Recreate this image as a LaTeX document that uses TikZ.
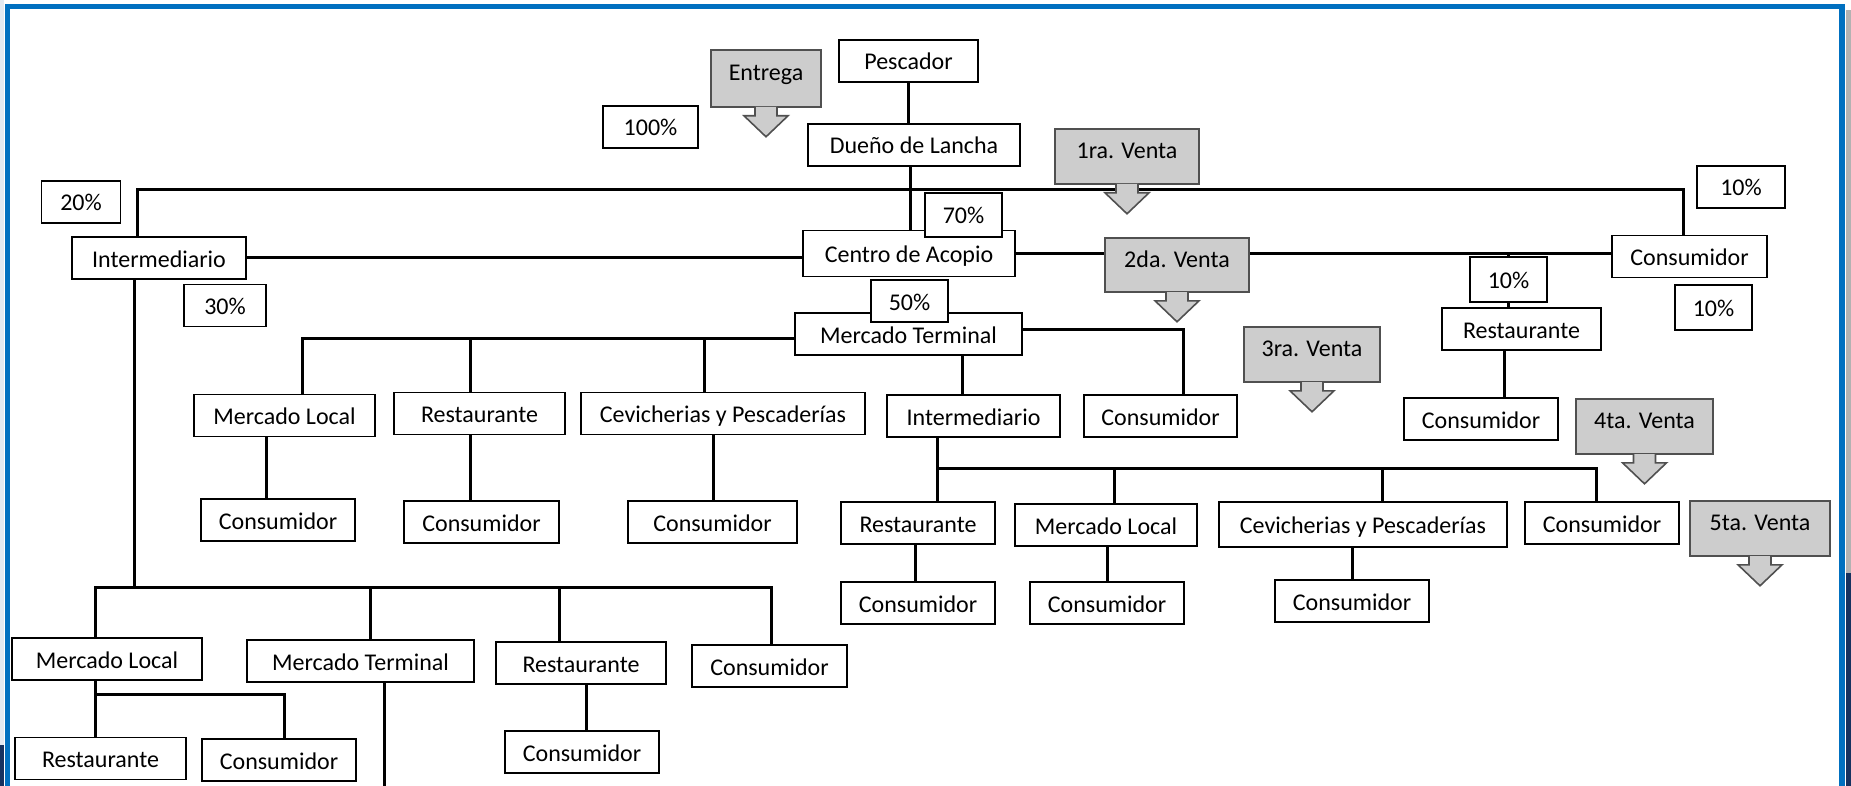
\documentclass[tikz,border=0pt]{standalone}
\usepackage{fontspec}
\setmainfont{Carlito}
\usetikzlibrary{calc}

\definecolor{marco}{RGB}{0,112,192}
\definecolor{ventagris}{RGB}{205,205,205}
\definecolor{ventaborde}{RGB}{80,80,80}
\definecolor{fondo}{RGB}{226,233,241}
\definecolor{marino}{RGB}{22,50,96}

\begin{document}
\begin{tikzpicture}[x=0.5pt,y=-0.5pt,
	caja/.style={draw=black,line width=0.8pt,fill=white,inner sep=0pt,minimum height=21pt,
		text height=10pt,text depth=1pt,font=\fontsize{12}{14}\selectfont},
	ancho/.style={minimum width=#1*0.5pt},
	venta/.style={draw=ventaborde,line width=0.8pt,fill=ventagris,inner sep=0pt,minimum height=27.5pt,
		text height=9pt,text depth=6.6pt,font=\fontsize{12}{14}\selectfont},
	flecha/.style={draw=ventaborde,line width=0.8pt,fill=ventagris},
	enlace/.style={line width=1.5pt}]
	\useasboundingbox (0,0) rectangle (1851,786);

	% Marco
	\fill[fondo] (0,0) rectangle (4,745);
	\fill[marino] (0,745) rectangle (4,786);
	\fill[gray!60] (1846,10) rectangle (1851,573);
	\fill[marino] (1846,573) rectangle (1851,786);
	\draw[marco,line width=2.8pt] (7.5,786) -- (7.5,6.5) -- (1842,6.5) -- (1842,786);

	% Primera parte
	\node[caja,ancho=139] (pescador) at (908.5,61) {Pescador};
	\node[caja,ancho=212] (duenio) at (914,145) {Dueño de Lancha};
	\node[caja,ancho=95] (p100) at (650.5,127) {100\%};
	\node[caja,ancho=212,minimum height=23pt] (centro) at (909,253.5) {Centro de Acopio};
	\node[caja,ancho=174] (interm) at (159,258) {Intermediario};
	\node[caja,ancho=79] (p20) at (81,202) {20\%};
	\node[caja,ancho=82] (p30) at (225,305.5) {30\%};
	\node[caja,ancho=155] (consR) at (1689.5,256.5) {Consumidor};
	\node[caja,ancho=88] (p10a) at (1741,187) {10\%};
	\node[caja,ancho=159] (restR) at (1521.5,329) {Restaurante};
	\node[caja,ancho=77,minimum height=22.5pt] (p10b) at (1508.5,279.5) {10\%};
	\node[caja,ancho=77,minimum height=22.5pt] (p10c) at (1713.5,307.5) {10\%};
	\node[caja,ancho=154] (consRR) at (1481,419) {Consumidor};
	\node[caja,ancho=227] (merterm) at (908.5,334) {Mercado Terminal};

	% Segunda fila
	\node[caja,ancho=181] (merloc1) at (284.5,415.5) {Mercado Local};
	\node[caja,ancho=171] (rest1) at (479.5,413.5) {Restaurante};
	\node[caja,ancho=284] (cev1) at (723,413.5) {Cevicherias y Pescaderías};
	\node[caja,ancho=173] (interm2) at (973.5,416) {Intermediario};
	\node[caja,ancho=153] (cons2) at (1160.5,416) {Consumidor};
	\node[caja,ancho=154] (cons1a) at (278,520) {Consumidor};
	\node[caja,ancho=155] (cons1b) at (481.5,522) {Consumidor};
	\node[caja,ancho=169] (cons1c) at (712.5,522) {Consumidor};

	% Tercera fila
	\node[caja,ancho=154] (rest3) at (918,523) {Restaurante};
	\node[caja,ancho=182] (merloc3) at (1106,525) {Mercado Local};
	\node[caja,ancho=288,minimum height=22.5pt] (cev3) at (1363,524.5) {Cevicherias y Pescaderías};
	\node[caja,ancho=154] (cons3) at (1602,523) {Consumidor};
	\node[caja,ancho=154] (cons3a) at (918,603) {Consumidor};
	\node[caja,ancho=154] (cons3b) at (1107,603) {Consumidor};
	\node[caja,ancho=154] (cons3c) at (1352,601) {Consumidor};

	% Abajo a la izquierda
	\node[caja,ancho=190] (merloc4) at (107,659) {Mercado Local};
	\node[caja,ancho=227] (merterm4) at (360.5,661) {Mercado Terminal};
	\node[caja,ancho=170] (rest4) at (581,663) {Restaurante};
	\node[caja,ancho=155] (cons4) at (769.5,666) {Consumidor};
	\node[caja,ancho=171] (rest5) at (100.5,758.5) {Restaurante};
	\node[caja,ancho=154] (cons5) at (279,760) {Consumidor};
	\node[caja,ancho=154] (cons6) at (582,752) {Consumidor};

	% Pescador y dueño
	\draw[enlace] (pescador.south) -- (pescador.south |- duenio.north);
	\draw[enlace] (duenio.south -| 910,0) -- (centro.north -| 910,0);

	% Reparto del dueño
	\coordinate (b1) at (137,190);
	\coordinate (b2) at (1683,190);
	\draw[enlace] (b1 |- interm.north) -- (b1) -- (b2) -- (b2 |- consR.north);
	\draw[enlace] (interm.east) -- (interm.east -| centro.west);
	\draw[enlace] (centro.east) -- (centro.east -| consR.west);
	\draw[enlace] (p10b.north |- centro.east) -- (p10b.north);
	\draw[enlace] (p10b.south) -- (p10b.south |- restR.north);
	\draw[enlace] (restR.south -| 1504,0) -- (consRR.north -| 1504,0);

	% Mercado Terminal
	\coordinate (mt1) at (302,338);
	\draw[enlace] (merterm.west |- mt1) -- (mt1) -- (mt1 |- merloc1.north);
	\draw[enlace] (mt1 -| 470,0) -- (rest1.north -| 470,0);
	\draw[enlace] (mt1 -| 704,0) -- (cev1.north -| 704,0);
	\draw[enlace] (merloc1.south -| 266,0) -- (cons1a.north -| 266,0);
	\draw[enlace] (rest1.south -| 470,0) -- (cons1b.north -| 470,0);
	\draw[enlace] (cev1.south -| 713,0) -- (cons1c.north -| 713,0);
	\draw[enlace] (merterm.south -| 962,0) -- (interm2.north -| 962,0);
	\coordinate (mt2) at (1183,329);
	\draw[enlace] (merterm.east |- mt2) -- (mt2) -- (mt2 |- cons2.north);

	% Intermediario del centro
	\coordinate (im1) at (937,468);
	\coordinate (im2) at (1596,468);
	\draw[enlace] (interm2.south -| im1) -- (im1 |- rest3.north);
	\draw[enlace] (im1) -- (im2) -- (im2 |- cons3.north);
	\draw[enlace] (im1 -| 1114,0) -- (merloc3.north -| 1114,0);
	\draw[enlace] (im1 -| 1382,0) -- (cev3.north -| 1382,0);
	\draw[enlace] (rest3.south -| 915,0) -- (cons3a.north -| 915,0);
	\draw[enlace] (merloc3.south -| 1107,0) -- (cons3b.north -| 1107,0);
	\draw[enlace] (cev3.south -| 1352,0) -- (cons3c.north -| 1352,0);

	% Intermediario de la izquierda
	\coordinate (il1) at (95,587);
	\coordinate (il2) at (771,587);
	\draw[enlace] (interm.south -| 134,0) -- (il1 -| 134,0);
	\draw[enlace] (il1 |- merloc4.north) -- (il1) -- (il2) -- (il2 |- cons4.north);
	\draw[enlace] (il1 -| 370,0) -- (merterm4.north -| 370,0);
	\draw[enlace] (il1 -| 559,0) -- (rest4.north -| 559,0);
	\coordinate (ml1) at (95,694);
	\coordinate (ml2) at (284,694);
	\draw[enlace] (merloc4.south -| ml1) -- (ml1 |- rest5.north);
	\draw[enlace] (ml1) -- (ml2) -- (ml2 |- cons5.north);
	\draw[enlace] (merterm4.south -| 384,0) -- (384,786);
	\draw[enlace] (rest4.south -| 586,0) -- (cons6.north -| 586,0);

	% Porcentajes encima
	\node[caja,ancho=77,minimum height=22pt] (p70) at (963.5,215) {70\%};
	\node[caja,ancho=77] (p50) at (909.5,301) {50\%};

	% Ventas
	\node[venta,ancho=110,minimum height=28.5pt] (entrega) at (766,78.5) {Entrega};
	\node[venta,ancho=144] (v1) at (1127,156.5) {1ra. Venta};
	\node[venta,ancho=144,minimum height=27pt] (v2) at (1177,265) {2da. Venta};
	\node[venta,ancho=136] (v3) at (1312,354.5) {3ra. Venta};
	\node[venta,ancho=137] (v4) at (1644.5,426.5) {4ta. Venta};
	\node[venta,ancho=140] (v5) at (1760,528.5) {5ta. Venta};
	\foreach \v in {entrega,v1,v2,v3,v4,v5}
		\filldraw[flecha] ([xshift=-5.5pt,yshift=0.4pt]\v.south) -- ++(0,8.8) -- ++(-11,0)
			-- ++(22,21) -- ++(22,-21) -- ++(-11,0) -- ++(0,-8.8);
\end{tikzpicture}
\end{document}
